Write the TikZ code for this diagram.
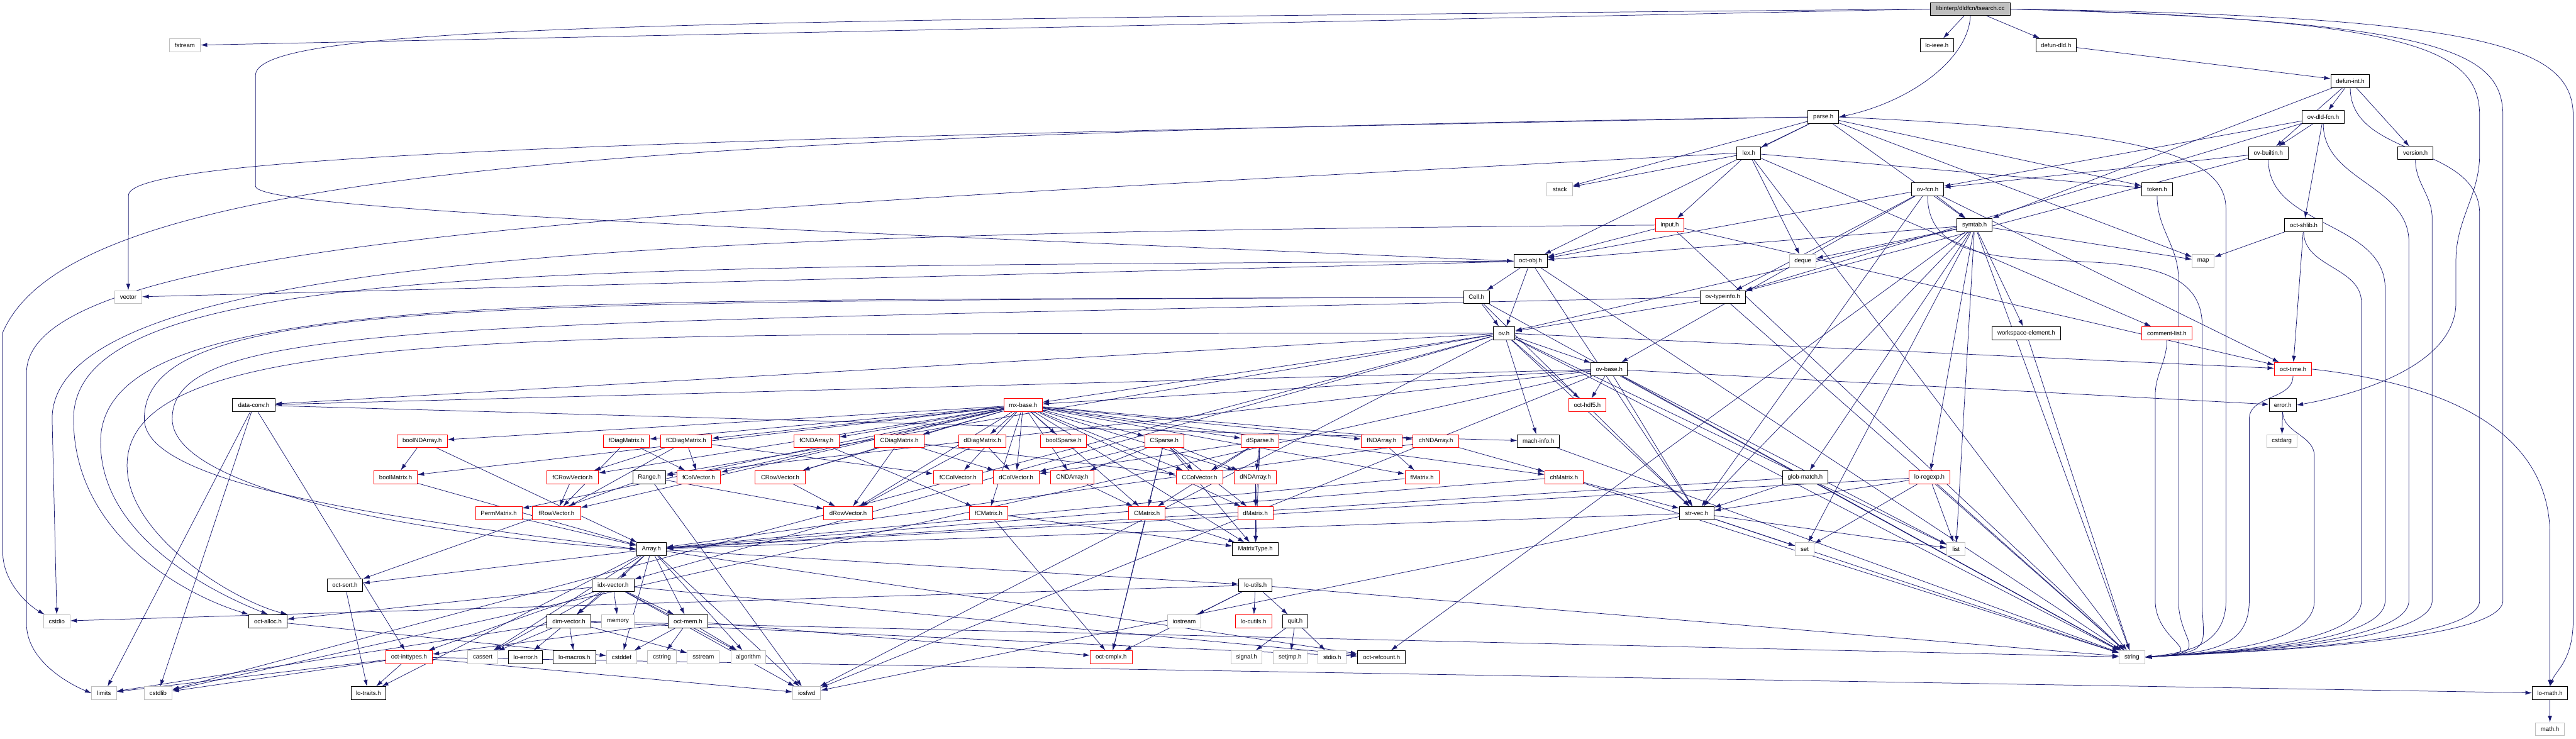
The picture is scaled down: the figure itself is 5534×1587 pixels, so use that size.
\documentclass[tikz,border=0pt]{standalone}
\usepackage{fontspec}
\setmainfont{Liberation Sans}
\usetikzlibrary{arrows.meta}
\definecolor{edgec}{HTML}{191970}
\definecolor{grayb}{HTML}{BFBFBF}
\pgfdeclarelayer{edgelayer}
\pgfsetlayers{edgelayer,main}
\newcommand\mknode[6]{\node[#6,minimum width={#4*0.2mm}] (#1) at ({#3},{19.4+77.35*#5}) {#2};}
\newcommand\tostr[3]{\draw[ed] (#1.south) to[out=-90,in=90] (#2,#3) -- (#2,1290) .. controls (#2,1385) and (4760,1402) .. (string.east);}
\tikzset{
  nb/.style={draw, line width=0.25mm, fill=white, minimum height=5.6mm, inner sep=0pt, font=\fontsize{7.4pt}{8pt}\selectfont},
  bn/.style={nb, draw=black},
  rn/.style={nb, draw=red},
  gn/.style={nb, draw=grayb},
  tn/.style={nb, draw=black, fill=grayb},
  ed/.style={draw=edgec, line width=0.2mm, -{Latex[length=2.8mm,width=1.8mm]}},
}
\begin{document}
\begin{tikzpicture}[x=0.2mm,y=-0.2mm]
\useasboundingbox (0,0) rectangle (5534,1587);
% row 0-2
\mknode{ts}{libinterp/dldfcn/tsearch.cc}{4233}{171}{0}{tn}
\mknode{fstream}{fstream}{397}{67}{1}{gn}
\mknode{loieee}{lo-ieee.h}{4161}{71}{1}{bn}
\mknode{defundld}{defun-dld.h}{4417}{87}{1}{bn}
\mknode{defunint}{defun-int.h}{5049}{83}{2}{bn}
% row 3-5
\mknode{parse}{parse.h}{3917}{66}{3}{bn}
\mknode{ovdld}{ov-dld-fcn.h}{4991}{90}{3}{bn}
\mknode{lex}{lex.h}{3757}{51}{4}{bn}
\mknode{ovbuiltin}{ov-builtin.h}{4873}{86}{4}{bn}
\mknode{version}{version.h}{5189}{75}{4}{bn}
\mknode{stack}{stack}{3351}{55}{5}{gn}
\mknode{ovfcn}{ov-fcn.h}{4141}{69}{5}{bn}
\mknode{token}{token.h}{4634}{66}{5}{bn}
% row 6-8
\mknode{input}{input.h}{3587}{62}{6}{rn}
\mknode{symtab}{symtab.h}{4242}{76}{6}{bn}
\mknode{octshlib}{oct-shlib.h}{4949}{83}{6}{bn}
\mknode{octobj}{oct-obj.h}{3288}{72}{7}{bn}
\mknode{deque}{deque}{3873}{57}{7}{gn}
\mknode{map}{map}{4733}{47}{7}{gn}
\mknode{vector}{vector}{275.5}{59}{8}{gn}
\mknode{cell}{Cell.h}{3172}{56}{8}{bn}
\mknode{ovtypeinfo}{ov-typeinfo.h}{3701}{97}{8}{bn}
% row 9-11
\mknode{ov}{ov.h}{3231}{47}{9}{bn}
\mknode{wselem}{workspace-element.h}{4353}{147}{9}{bn}
\mknode{commentlist}{comment-list.h}{4655}{109}{9}{rn}
\mknode{ovbase}{ov-base.h}{3457}{78}{10}{bn}
\mknode{octtime}{oct-time.h}{4926}{80}{10}{rn}
\mknode{dataconv}{data-conv.h}{545}{91}{11}{bn}
\mknode{mxbase}{mx-base.h}{2198}{82}{11}{rn}
\mknode{octhdf5}{oct-hdf5.h}{3410}{80}{11}{rn}
\mknode{error}{error.h}{4904}{58}{11}{bn}
% row 12
\mknode{boolNDArray}{boolNDArray.h}{907}{108}{12}{rn}
\mknode{fDiagMatrix}{fDiagMatrix.h}{1346}{98.5}{12}{rn}
\mknode{fCDiagMatrix}{fCDiagMatrix.h}{1474}{110}{12}{rn}
\mknode{fCNDArray}{fCNDArray.h}{1754}{98}{12}{rn}
\mknode{CDiagMatrix}{CDiagMatrix.h}{1932}{106}{12}{rn}
\mknode{dDiagMatrix}{dDiagMatrix.h}{2110.5}{102}{12}{rn}
\mknode{boolSparse}{boolSparse.h}{2285}{98.5}{12}{rn}
\mknode{CSparse}{CSparse.h}{2501}{84}{12}{rn}
\mknode{dSparse}{dSparse.h}{2707}{81}{12}{rn}
\mknode{fNDArray}{fNDArray.h}{2968}{88}{12}{rn}
\mknode{chNDArray}{chNDArray.h}{3085}{98.5}{12}{rn}
\mknode{machinfo}{mach-info.h}{3305}{90}{12}{bn}
\mknode{cstdarg}{cstdarg}{4902}{65}{12}{gn}
% row 13
\mknode{boolMatrix}{boolMatrix.h}{850}{93}{13}{rn}
\mknode{fCRowVector}{fCRowVector.h}{1230}{111.5}{13}{rn}
\mknode{Range}{Range.h}{1395}{71}{13}{bn}
\mknode{fColVector}{fColVector.h}{1501}{94}{13}{rn}
\mknode{CRowVector}{CRowVector.h}{1676}{108}{13}{rn}
\mknode{fCColVector}{fCColVector.h}{2058}{106}{13}{rn}
\mknode{dColVector}{dColVector.h}{2183}{98.5}{13}{rn}
\mknode{CNDArray}{CNDArray.h}{2303.5}{94}{13}{rn}
\mknode{CColVector}{CColVector.h}{2577}{101}{13}{rn}
\mknode{dNDArray}{dNDArray.h}{2697}{90}{13}{rn}
\mknode{fMatrix}{fMatrix.h}{3055}{73.5}{13}{rn}
\mknode{chMatrix}{chMatrix.h}{3360}{83}{13}{rn}
\mknode{globmatch}{glob-match.h}{3878}{97}{13}{bn}
\mknode{loregexp}{lo-regexp.h}{4145}{87}{13}{rn}
% row 14
\mknode{PermMatrix}{PermMatrix.h}{1071.5}{100}{14}{rn}
\mknode{fRowVector}{fRowVector.h}{1195.5}{103}{14}{rn}
\mknode{dRowVector}{dRowVector.h}{1822}{106}{14}{rn}
\mknode{fCMatrix}{fCMatrix.h}{2124}{82}{14}{rn}
\mknode{CMatrix}{CMatrix.h}{2464}{78}{14}{rn}
\mknode{dMatrix}{dMatrix.h}{2697}{76}{14}{rn}
\mknode{strvec}{str-vec.h}{3645}{74}{14}{bn}
% row 15-16
\mknode{Array}{Array.h}{1399.5}{63.5}{15}{bn}
\mknode{MatrixType}{MatrixType.h}{2697}{98.5}{15}{bn}
\mknode{set}{set}{3877}{40}{15}{gn}
\mknode{list}{list}{4202}{39}{15}{gn}
\mknode{idxvector}{idx-vector.h}{1317}{91}{16}{bn}
\mknode{octsort}{oct-sort.h}{741}{77}{16}{bn}
\mknode{loutils}{lo-utils.h}{2697}{71}{16}{bn}
% row 17
\mknode{cstdio}{cstdio}{122}{57}{17}{gn}
\mknode{octalloc}{oct-alloc.h}{575.6}{82}{17}{bn}
\mknode{dimvector}{dim-vector.h}{1222}{94}{17}{bn}
\mknode{memory}{memory}{1327.5}{70}{17}{gn}
\mknode{octmem}{oct-mem.h}{1478}{84}{17}{bn}
\mknode{iostream}{iostream}{2544}{72}{17}{gn}
\mknode{locutils}{lo-cutils.h}{2693}{79}{17}{rn}
\mknode{quit}{quit.h}{2782.5}{55}{17}{bn}
% row 18
\mknode{octinttypes}{oct-inttypes.h}{878.7}{100}{18}{rn}
\mknode{cassert}{cassert}{1037}{65}{18}{gn}
\mknode{loerror}{lo-error.h}{1129}{73.5}{18}{bn}
\mknode{lomacros}{lo-macros.h}{1234}{91}{18}{bn}
\mknode{cstddef}{cstddef}{1335.5}{65}{18}{gn}
\mknode{cstring}{cstring}{1422}{61}{18}{gn}
\mknode{sstream}{sstream}{1511}{69}{18}{gn}
\mknode{algorithm}{algorithm}{1608}{74}{18}{gn}
\mknode{octcmplx}{oct-cmplx.h}{2387}{90}{18}{rn}
\mknode{signal}{signal.h}{2678}{67}{18}{gn}
\mknode{setjmp}{setjmp.h}{2771.5}{72}{18}{gn}
\mknode{stdio}{stdio.h}{2862}{61}{18}{gn}
\mknode{octrefcount}{oct-refcount.h}{2968}{103}{18}{bn}
\mknode{string}{string}{4580}{55}{18}{gn}
% row 19-20
\mknode{limits}{limits}{223.6}{53}{19}{gn}
\mknode{cstdlib}{cstdlib}{339.6}{60}{19}{gn}
\mknode{lotraits}{lo-traits.h}{791.5}{75}{19}{bn}
\mknode{iosfwd}{iosfwd}{1733}{60}{19}{gn}
\mknode{lomath}{lo-math.h}{5478}{76}{19}{bn}
\mknode{mathh}{math.h}{5478}{62.5}{20}{gn}

\begin{pgfonlayer}{edgelayer}
% tsearch.cc
\draw[ed] (ts) -- (loieee);
\draw[ed] (ts) -- (defundld);
\draw[ed] (ts.west) -- (fstream.east);
\draw[ed] (ts.south) .. controls (4228,130) and (4100,220) .. (parse.east);
\draw[ed] (ts.west) .. controls (1500,45) and (560,50) .. (549,160) -- (549,400) .. controls (549,450) and (1600,490) .. (octobj.west);
\draw[ed] (ts.east) .. controls (5350,35) and (5528,100) .. (5528,250) -- (5528,1330) .. controls (5528,1420) and (5490,1440) .. (lomath.north);
\draw[ed] (ts.east) .. controls (5250,45) and (5377,110) .. (5377,250) -- (5377,1290) .. controls (5377,1385) and (4760,1402) .. (string.east);
\draw[ed] (ts.east) .. controls (5200,40) and (5327,110) .. (5327,250) -- (5327,330) .. controls (5327,420) and (5276,470) .. (5276,560) -- (5276,650) .. controls (5276,790) and (5050,850) .. (error.east);
% defun
\draw[ed] (defundld) -- (defunint);
\foreach \t in {ovbuiltin,ovdld,version,symtab} \draw[ed] (defunint) -- (\t);
\tostr{defunint}{5327}{460}
\foreach \t in {ovbuiltin,octshlib,ovfcn,ovtypeinfo} \draw[ed] (ovdld) -- (\t);
\tostr{ovdld}{5175}{520}
\foreach \t in {ovfcn,ovtypeinfo} \draw[ed] (ovbuiltin) -- (\t);
\tostr{ovbuiltin}{5124}{620}
\tostr{version}{5225}{470}
% parse / lex
\foreach \t in {lex,symtab,token,stack,map,octobj} \draw[ed] (parse) -- (\t);
\draw[ed] (parse.west) .. controls (1200,290) and (150,380) .. (6,714) -- (6,1187) .. controls (6,1250) and (60,1300) .. (cstdio);
\draw[ed] (parse.west) .. controls (1200,300) and (276,340) .. (276,420) -- (vector.north);
\draw[ed] (parse.east) .. controls (4600,280) and (4782,330) .. (4782,450) -- (4782,1290) .. controls (4782,1385) and (4700,1402) .. (string.east);
\foreach \t in {stack,deque,token,commentlist,input,string} \draw[ed] (lex) -- (\t);
\draw[ed] (lex.west) .. controls (1500,450) and (60,500) .. (57,800) -- (57,1340) .. controls (57,1420) and (150,1470) .. (limits.west);
% ov-fcn, token, shlib, input
\foreach \t in {symtab,ovtypeinfo,octobj,ovbase,strvec,octtime} \draw[ed] (ovfcn) -- (\t);
\tostr{ovfcn}{4731}{700}
\tostr{token}{4680}{600}
\foreach \t in {map,octtime} \draw[ed] (octshlib) -- (\t);
\tostr{octshlib}{5073}{650}
\foreach \t in {octobj,octtime,string} \draw[ed] (input) -- (\t);
\draw[ed] (input.west) .. controls (1500,500) and (112,540) .. (112,900) -- (cstdio.north);
% symtab
\foreach \t in {deque,list,map,set,globmatch,loregexp,octobj,wselem,ov,octrefcount,strvec,string} \draw[ed] (symtab) -- (\t);
% oct-obj, Cell, ov-typeinfo
\foreach \t in {cell,ov,strvec,string,vector} \draw[ed] (octobj) -- (\t);
\draw[ed] (octobj.west) .. controls (1200,575) and (158,560) .. (158,900) .. controls (158,1150) and (400,1280) .. (octalloc.north west);
\foreach \t in {ov,strvec,string} \draw[ed] (cell) -- (\t);
\draw[ed] (cell.west) .. controls (1200,650) and (216,610) .. (216,950) .. controls (216,1150) and (450,1270) .. (octalloc.north);
\draw[ed] (cell.west) .. controls (1000,650) and (310,640) .. (310,900) .. controls (310,1050) and (900,1120) .. (Array.west);
\foreach \t in {ov,string} \draw[ed] (ovtypeinfo) -- (\t);
\draw[ed] (ovtypeinfo.west) .. controls (1000,700) and (370,680) .. (370,900) .. controls (370,1050) and (900,1150) .. (Array.west);
% ov, ov-base
\foreach \t in {ovbase,mxbase,Range,dataconv,idxvector,machinfo,octtime,strvec,octhdf5,cstdlib,iosfwd,list,string} \draw[ed] (ov) -- (\t);
\draw[ed] (ov.west) .. controls (1200,720) and (273,690) .. (273,1000) .. controls (273,1150) and (500,1290) .. (octalloc.north east);
\foreach \t in {mxbase,Range,dataconv,strvec,error,octhdf5,cstdlib,iosfwd,list,string} \draw[ed] (ovbase) -- (\t);
\draw[ed] (wselem) -- (string);
\tostr{commentlist}{4630}{850}
\draw[ed] (octtime.east) .. controls (5300,830) and (5478,950) .. (5478,1150) -- (lomath.north);
\tostr{octtime}{4832}{900}
\draw[ed] (error) -- (cstdarg);
\tostr{error}{4972}{980}
% data-conv, mach-info
\foreach \t in {cstdlib,octinttypes,machinfo,limits} \draw[ed] (dataconv) -- (\t);
\draw[ed] (machinfo) -- (string);
% mx-base
\foreach \t in {boolNDArray,fDiagMatrix,fCDiagMatrix,fCNDArray,CDiagMatrix,dDiagMatrix,boolSparse,CSparse,dSparse,fNDArray,chNDArray,boolMatrix,fCRowVector,fColVector,CRowVector,fCColVector,dColVector,CNDArray,CColVector,dNDArray,fMatrix,chMatrix,PermMatrix,fRowVector,dRowVector,fCMatrix,CMatrix,dMatrix,MatrixType} \draw[ed] (mxbase) -- (\t);
% matrix headers
\foreach \t in {boolMatrix,Array} \draw[ed] (boolNDArray) -- (\t);
\draw[ed] (boolMatrix) -- (Array);
\foreach \t in {fColVector,fRowVector} \draw[ed] (fDiagMatrix) -- (\t);
\foreach \t in {fColVector,fCRowVector,fRowVector,fCColVector} \draw[ed] (fCDiagMatrix) -- (\t);
\draw[ed] (fCNDArray) -- (fCMatrix);
\foreach \t in {CRowVector,CColVector,dColVector,dRowVector} \draw[ed] (CDiagMatrix) -- (\t);
\foreach \t in {dRowVector,dColVector} \draw[ed] (dDiagMatrix) -- (\t);
\foreach \t in {CColVector,dNDArray,CNDArray,dMatrix,CMatrix,MatrixType,dColVector,octcmplx} \draw[ed] (CSparse) -- (\t);
\foreach \t in {CColVector,dNDArray,dMatrix,CMatrix,MatrixType,dColVector} \draw[ed] (dSparse) -- (\t);
\draw[ed] (fNDArray) -- (fMatrix);
\foreach \t in {chMatrix,Array} \draw[ed] (chNDArray) -- (\t);
\draw[ed] (CNDArray) -- (CMatrix);
\draw[ed] (dNDArray) -- (dMatrix);
\draw[ed] (fMatrix) -- (Array);
\foreach \t in {strvec,Array,string} \draw[ed] (chMatrix) -- (\t);
\draw[ed] (CRowVector) -- (dRowVector);
\draw[ed] (fCRowVector) -- (fRowVector);
\draw[ed] (PermMatrix) -- (Array);
\foreach \t in {MatrixType,octcmplx} \draw[ed] (fCMatrix) -- (\t);
\foreach \t in {MatrixType,octcmplx} \draw[ed] (CMatrix) -- (\t);
\draw[ed] (dMatrix) -- (MatrixType);
\foreach \t in {octsort,dRowVector,iosfwd} \draw[ed] (Range) -- (\t);
% string utilities
\foreach \t in {strvec,Array,string} \draw[ed] (globmatch) -- (\t);
\foreach \t in {strvec,list,set,string,Array} \draw[ed] (loregexp) -- (\t);
\foreach \t in {Array,list,set,string,iosfwd} \draw[ed] (strvec) -- (\t);
% liboctave core
\foreach \t in {idxvector,dimvector,cassert,cstddef,octmem,algorithm,iosfwd,lotraits,octsort,loutils,octrefcount} \draw[ed] (Array) -- (\t);
\foreach \t in {dimvector,memory,octmem,cassert,algorithm,iosfwd,octinttypes,octalloc,octrefcount} \draw[ed] (idxvector) -- (\t);
\draw[ed] (octsort) -- (lotraits);
\foreach \t in {iostream,locutils,quit,octcmplx,string,cstdio} \draw[ed] (loutils) -- (\t);
\foreach \t in {cassert,loerror,lomacros,sstream,string,limits,octrefcount} \draw[ed] (dimvector) -- (\t);
\foreach \t in {cstddef,cstring,algorithm,octinttypes,octcmplx} \draw[ed] (octmem) -- (\t);
\draw[ed] (octalloc) -- (cstddef);
\foreach \t in {signal,setjmp,stdio} \draw[ed] (quit) -- (\t);
\foreach \t in {limits,cstdlib,lotraits,iosfwd,lomath} \draw[ed] (octinttypes) -- (\t);
\draw[ed] (lomath) -- (mathh);
\end{pgfonlayer}
\end{tikzpicture}
\end{document}
